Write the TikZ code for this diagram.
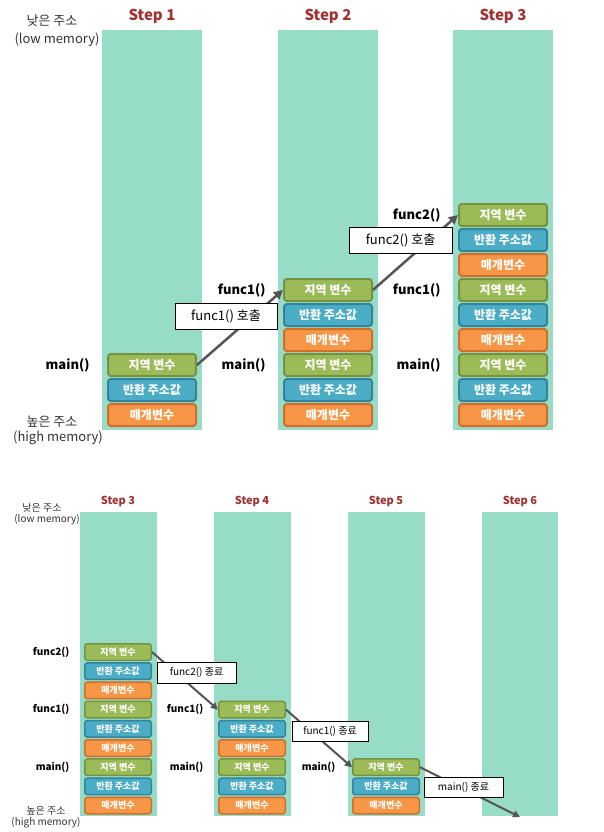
\documentclass[tikz,border=0pt]{standalone}
\usepackage{fontspec}
\setmainfont{Noto Sans CJK KR}
\usetikzlibrary{arrows.meta}
\definecolor{colbg}{RGB}{151,220,199}
\definecolor{gfill}{RGB}{155,187,89}
\definecolor{gdraw}{RGB}{118,146,60}
\definecolor{bfill}{RGB}{75,172,198}
\definecolor{bdraw}{RGB}{49,132,155}
\definecolor{ofill}{RGB}{247,150,70}
\definecolor{odraw}{RGB}{210,110,40}
\definecolor{steptxt}{RGB}{160,50,50}
\definecolor{conn}{RGB}{85,85,85}
\tikzset{
  colbox/.style={fill=colbg, draw=none},
  stepttl/.style={text=steptxt, font=\bfseries\fontsize{15}{17}\selectfont},
  stepttlS/.style={text=steptxt, font=\bfseries\fontsize{11}{13}\selectfont},
  memtxt/.style={text=black!80, font=\fontsize{13}{15}\selectfont},
  memtxtS/.style={text=black!80, font=\fontsize{10}{12}\selectfont},
  fnlbl/.style={font=\bfseries\fontsize{13}{15}\selectfont, anchor=east},
  fnlblS/.style={font=\bfseries\fontsize{10}{12}\selectfont, anchor=east},
  big/.style={rounded corners=3pt, line width=2pt, minimum width=88pt, minimum height=22pt, inner sep=0pt, text=white, font=\bfseries\fontsize{12}{14}\selectfont},
  small/.style={rounded corners=2.5pt, line width=1.5pt, minimum width=66.5pt, minimum height=16.5pt, inner sep=0pt, text=white, font=\bfseries\fontsize{9}{11}\selectfont},
  gbox/.style={fill=gfill, draw=gdraw},
  bbox/.style={fill=bfill, draw=bdraw},
  obox/.style={fill=ofill, draw=odraw},
  callbox/.style={draw=black, fill=white, line width=0.8pt, inner sep=0pt, font=\fontsize{13}{15}\selectfont},
  callboxS/.style={draw=black, fill=white, line width=0.8pt, inner sep=0pt, font=\fontsize{10}{12}\selectfont},
  arr/.style={draw=conn, line width=2.5pt, -{Triangle[length=9pt,width=9pt]}},
  arrS/.style={draw=conn, line width=2pt, -{Triangle[length=7pt,width=7pt]}},
}
\begin{document}
\begin{tikzpicture}[x=1pt,y=-1pt]
\useasboundingbox (0,0) rectangle (604,832);
% ===== TOP =====
\fill[colbg] (102,30) rectangle (202,430);
\fill[colbg] (278,30) rectangle (378,430);
\fill[colbg] (453,30) rectangle (553,430);
\node[stepttl] (s1) at (152,16) {Step 1};
\node[stepttl] (s2) at (328,16) {Step 2};
\node[stepttl] (s3) at (503,16) {Step 3};
\node[memtxt] (low1) at (52,21) {낮은 주소};
\node[memtxt] (low2) at (57,40) {(low memory)};
\node[memtxt] (high1) at (52,422) {높은 주소};
\node[memtxt] (high2) at (58,438) {(high memory)};
% step 1
\node[big,gbox] (a1) at (152,365) {지역 변수};
\node[big,bbox] (a2) at (152,390) {반환 주소값};
\node[big,obox] (a3) at (152,415) {매개변수};
\node[fnlbl] (la1) at (93,365) {main()};
% step 2
\node[big,gbox] (b1) at (328,290) {지역 변수};
\node[big,bbox] (b2) at (328,315) {반환 주소값};
\node[big,obox] (b3) at (328,340) {매개변수};
\node[big,gbox] (b4) at (328,365) {지역 변수};
\node[big,bbox] (b5) at (328,390) {반환 주소값};
\node[big,obox] (b6) at (328,415) {매개변수};
\node[fnlbl] (lb1) at (269,290) {func1()};
\node[fnlbl] (lb2) at (269,365) {main()};
% step 3
\node[big,gbox] (c1) at (503,215) {지역 변수};
\node[big,bbox] (c2) at (503,240) {반환 주소값};
\node[big,obox] (c3) at (503,265) {매개변수};
\node[big,gbox] (c4) at (503,290) {지역 변수};
\node[big,bbox] (c5) at (503,315) {반환 주소값};
\node[big,obox] (c6) at (503,340) {매개변수};
\node[big,gbox] (c7) at (503,365) {지역 변수};
\node[big,bbox] (c8) at (503,390) {반환 주소값};
\node[big,obox] (c9) at (503,415) {매개변수};
\node[fnlbl] (lc1) at (444,215) {func2()};
\node[fnlbl] (lc2) at (444,290) {func1()};
\node[fnlbl] (lc3) at (444,365) {main()};
% arrows
\draw[arr] (a1.east) -- (b1.west);
\draw[arr] (b1.east) -- (c1.west);
\node[callbox, minimum width=102pt, minimum height=26pt] (k1) at (226,316) {func1() 호출};
\node[callbox, minimum width=103pt, minimum height=26pt] (k2) at (400.5,240) {func2() 호출};
% ===== BOTTOM =====
\fill[colbg] (80,512) rectangle (157,816);
\fill[colbg] (214,512) rectangle (291,816);
\fill[colbg] (348,512) rectangle (425,816);
\fill[colbg] (482,512) rectangle (558,816);
\node[stepttlS] (t3) at (118,501) {Step 3};
\node[stepttlS] (t4) at (252,501) {Step 4};
\node[stepttlS] (t5) at (386,501) {Step 5};
\node[stepttlS] (t6) at (520,501) {Step 6};
\node[memtxtS] (lowS1) at (42,508) {낮은 주소};
\node[memtxtS] (lowS2) at (47,520) {(low memory)};
\node[memtxtS] (highS1) at (46,811) {높은 주소};
\node[memtxtS] (highS2) at (46,823) {(high memory)};
% step 3 small
\node[small,gbox] (d1) at (118,652) {지역 변수};
\node[small,bbox] (d2) at (118,671.2) {반환 주소값};
\node[small,obox] (d3) at (118,690.4) {매개변수};
\node[small,gbox] (d4) at (118,709.6) {지역 변수};
\node[small,bbox] (d5) at (118,728.8) {반환 주소값};
\node[small,obox] (d6) at (118,748) {매개변수};
\node[small,gbox] (d7) at (118,767.2) {지역 변수};
\node[small,bbox] (d8) at (118,786.4) {반환 주소값};
\node[small,obox] (d9) at (118,805.6) {매개변수};
\node[fnlblS] (ld1) at (73,652) {func2()};
\node[fnlblS] (ld2) at (73,709.6) {func1()};
\node[fnlblS] (ld3) at (73,767.2) {main()};
% step 4 small
\node[small,gbox] (e1) at (252,709.6) {지역 변수};
\node[small,bbox] (e2) at (252,728.8) {반환 주소값};
\node[small,obox] (e3) at (252,748) {매개변수};
\node[small,gbox] (e4) at (252,767.2) {지역 변수};
\node[small,bbox] (e5) at (252,786.4) {반환 주소값};
\node[small,obox] (e6) at (252,805.6) {매개변수};
\node[fnlblS] (le1) at (207,709.6) {func1()};
\node[fnlblS] (le2) at (207,767.2) {main()};
% step 5 small
\node[small,gbox] (f1) at (386,767.2) {지역 변수};
\node[small,bbox] (f2) at (386,786.4) {반환 주소값};
\node[small,obox] (f3) at (386,805.6) {매개변수};
\node[fnlblS] (lf1) at (339,767.2) {main()};
\coordinate (end6) at (520,817);
% arrows small
\draw[arrS] (d1.east) -- (e1.west);
\draw[arrS] (e1.east) -- (f1.west);
\draw[arrS] (f1.east) -- (end6);
\node[callboxS, minimum width=79pt, minimum height=21pt] (m1) at (196.5,672.5) {func2() 종료};
\node[callboxS, minimum width=76pt, minimum height=20pt] (m2) at (330,731) {func1() 종료};
\node[callboxS, minimum width=79pt, minimum height=20pt] (m3) at (463.5,787) {main() 종료};
\end{tikzpicture}
\end{document}
